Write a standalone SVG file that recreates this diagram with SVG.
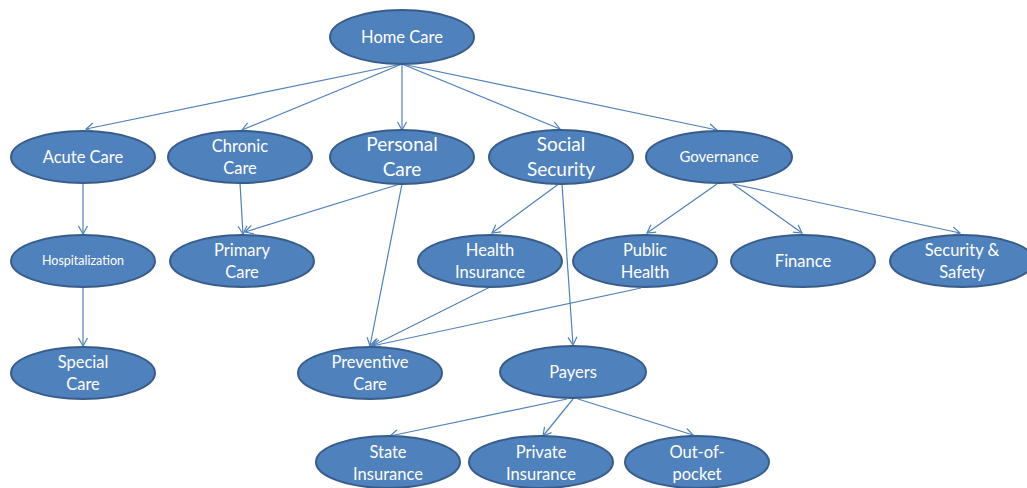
<svg xmlns="http://www.w3.org/2000/svg" width="1027" height="488" viewBox="0 0 1027 488">
<style>
.n ellipse{fill:#4F81BD;stroke:#385D8A;stroke-width:2}
.n text{fill:#FFFFFF;font-family:Lato,"Open Sans","Liberation Sans",sans-serif;font-size:16.5px;text-anchor:middle}
.n text.big{font-size:19px}
.n text.gov{font-size:15px}
.n text.sm{font-size:12.5px}
#edges line{stroke:#4F81BD;stroke-width:1.2;fill:none;marker-end:url(#arr)}
</style>
<defs>
<marker id="arr" markerUnits="userSpaceOnUse" markerWidth="12" markerHeight="12" viewBox="0 0 12 12" refX="10" refY="6" orient="auto">
<path d="M2,1.5 L10,6 L2,10.5" fill="none" stroke="#4F81BD" stroke-width="1.2"/>
</marker>
</defs>
<rect width="1027" height="488" fill="#FFFFFF"/>
<g id="edges">
<line x1="402" y1="64" x2="86" y2="129"/>
<line x1="402" y1="64" x2="242" y2="130"/>
<line x1="402" y1="64" x2="402" y2="130"/>
<line x1="402" y1="64" x2="560" y2="129"/>
<line x1="402" y1="64" x2="717" y2="130"/>
<line x1="83" y1="183" x2="83" y2="234"/>
<line x1="240" y1="183" x2="243" y2="234"/>
<line x1="400" y1="184" x2="245" y2="232"/>
<line x1="402" y1="184" x2="370" y2="346"/>
<line x1="560" y1="183" x2="492" y2="233"/>
<line x1="562" y1="184" x2="573" y2="345"/>
<line x1="490" y1="287" x2="372" y2="346"/>
<line x1="641" y1="288" x2="372" y2="346"/>
<line x1="717" y1="184" x2="647" y2="233"/>
<line x1="733" y1="184" x2="802" y2="233"/>
<line x1="733" y1="184" x2="960" y2="233"/>
<line x1="83" y1="287" x2="83" y2="346"/>
<line x1="567" y1="399" x2="390" y2="436"/>
<line x1="573" y1="399" x2="543" y2="436"/>
<line x1="578" y1="399" x2="693" y2="435"/>
</g>
<g id="home" class="n"><ellipse cx="402" cy="37" rx="72" ry="27"/><text x="402" y="43">Home Care</text></g>
<g id="acute" class="n"><ellipse cx="83" cy="157" rx="72" ry="26"/><text x="83" y="163">Acute Care</text></g>
<g id="chronic" class="n"><ellipse cx="240" cy="157" rx="72" ry="26"/><text x="240" y="152">Chronic</text><text x="240" y="174">Care</text></g>
<g id="personal" class="n"><ellipse cx="402" cy="157" rx="72" ry="27"/><text class="big" x="402" y="151">Personal</text><text class="big" x="402" y="176">Care</text></g>
<g id="social" class="n"><ellipse cx="561" cy="157" rx="72" ry="27"/><text class="big" x="561" y="151">Social</text><text class="big" x="561" y="176">Security</text></g>
<g id="governance" class="n"><ellipse cx="719" cy="157" rx="73" ry="26"/><text class="gov" x="719" y="162">Governance</text></g>
<g id="hospitalization" class="n"><ellipse cx="83" cy="261" rx="72" ry="26"/><text class="sm" x="83" y="265">Hospitalization</text></g>
<g id="primary" class="n"><ellipse cx="242" cy="261" rx="72" ry="26"/><text x="242" y="256">Primary</text><text x="242" y="278">Care</text></g>
<g id="health" class="n"><ellipse cx="490" cy="261" rx="72" ry="26"/><text x="490" y="256">Health</text><text x="490" y="278">Insurance</text></g>
<g id="public" class="n"><ellipse cx="645" cy="261" rx="72" ry="26"/><text x="645" y="256">Public</text><text x="645" y="278">Health</text></g>
<g id="finance" class="n"><ellipse cx="803" cy="261" rx="72" ry="26"/><text x="803" y="267">Finance</text></g>
<g id="security" class="n"><ellipse cx="962" cy="261" rx="72" ry="26"/><text x="962" y="256">Security &amp;</text><text x="962" y="278">Safety</text></g>
<g id="special" class="n"><ellipse cx="83" cy="373" rx="72" ry="26"/><text x="83" y="368">Special</text><text x="83" y="390">Care</text></g>
<g id="preventive" class="n"><ellipse cx="370" cy="373" rx="72" ry="26"/><text x="370" y="368">Preventive</text><text x="370" y="390">Care</text></g>
<g id="payers" class="n"><ellipse cx="573" cy="372" rx="73" ry="26"/><text x="573" y="378">Payers</text></g>
<g id="state" class="n"><ellipse cx="388" cy="462" rx="72" ry="26"/><text x="388" y="458">State</text><text x="388" y="480">Insurance</text></g>
<g id="private" class="n"><ellipse cx="541" cy="462" rx="72" ry="26"/><text x="541" y="458">Private</text><text x="541" y="480">Insurance</text></g>
<g id="outofpocket" class="n"><ellipse cx="697" cy="462" rx="72" ry="26"/><text x="697" y="458">Out-of-</text><text x="697" y="480">pocket</text></g>
</svg>
